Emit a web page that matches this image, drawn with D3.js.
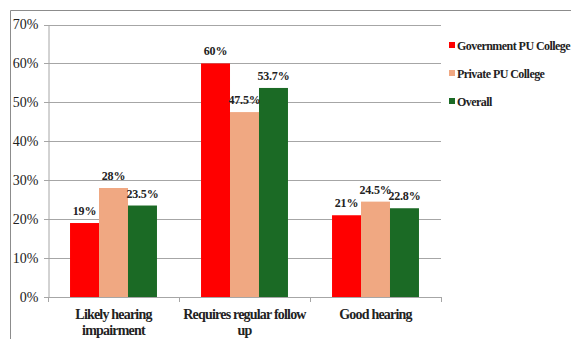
<!DOCTYPE html>
<html><head><meta charset="utf-8">
<script src="https://cdn.jsdelivr.net/npm/d3@7"></script>
</head><body style="margin:0;background:#fff">
<svg id="chart" width="571" height="339" style="display:block"></svg>
<script>
const categories = ["Likely hearing impairment", "Requires regular follow up", "Good hearing"];
const categoryLines = [["Likely hearing", "impairment"], ["Requires regular follow", "up"], ["Good hearing"]];
const seriesNames = ["Government PU College", "Private PU College", "Overall"];
const government = [19, 60, 21];
const privateCol = [28, 47.5, 24.5];
const overall = [23.5, 53.7, 22.8];
const valueLabels = [["19%", "60%", "21%"], ["28%", "47.5%", "24.5%"], ["23.5%", "53.7%", "22.8%"]];
const yTicks = [0, 10, 20, 30, 40, 50, 60, 70];
const colors = ["#ff0000", "#f0a882", "#1b6a25"];

const FONT = '"Liberation Serif"';
const seriesValues = [government, privateCol, overall];
const svg = d3.select("#chart");

// outer border
svg.append("line").attr("x1", 10.5).attr("x2", 571).attr("y1", 10.5).attr("y2", 10.5).attr("stroke", "#8c8c8c");
svg.append("line").attr("x1", 10.5).attr("x2", 10.5).attr("y1", 10.5).attr("y2", 339).attr("stroke", "#8c8c8c");

const x0 = d3.scaleBand().domain(categories).range([48, 441]);
const x1 = d3.scaleBand().domain(seriesNames).range([0, x0.bandwidth()]).paddingOuter(0.76);
const y = d3.scaleLinear().domain([0, 70]).range([297, 24.5]);

// gridlines
svg.append("g").selectAll("line").data(yTicks).join("line")
  .attr("x1", 44).attr("x2", 441)
  .attr("y1", d => Math.round(y(d)) + 0.5).attr("y2", d => Math.round(y(d)) + 0.5)
  .attr("stroke", "#a6a6a6");

// y axis
const yAxis = d3.axisLeft(y).tickValues(yTicks).tickFormat(d => d + "%").tickSize(0).tickPadding(10);
const gy = svg.append("g").attr("transform", "translate(48.5,0)").call(yAxis);
gy.select(".domain").attr("stroke", "#a6a6a6");
gy.selectAll("text").attr("font-size", 14).attr("fill", "#222").style("font-family", FONT);

// bars
const groups = svg.append("g").selectAll("g").data(categories).join("g")
  .attr("transform", d => `translate(${x0(d)},0)`);
const barData = (c, i) => seriesNames.map((s, j) => ({s, j, v: seriesValues[j][i], lab: valueLabels[j][i]}));
groups.selectAll("rect").data(barData)
  .join("rect")
  .attr("x", d => x1(d.s)).attr("width", x1.bandwidth())
  .attr("y", d => y(d.v)).attr("height", d => y(0) - y(d.v))
  .attr("fill", d => colors[d.j]);
groups.selectAll("text").data(barData)
  .join("text")
  .attr("x", d => x1(d.s) + x1.bandwidth() / 2).attr("y", d => y(d.v) - 8)
  .attr("text-anchor", "middle").attr("font-size", 12).attr("font-weight", "bold").attr("fill", "#222")
  .style("font-family", FONT).style("letter-spacing", "-0.2px")
  .text(d => d.lab);

// x axis
svg.append("line").attr("x1", 48).attr("x2", 441).attr("y1", 297.5).attr("y2", 297.5).attr("stroke", "#a6a6a6");
const bounds = categories.map(c => x0(c)).concat([x0.range()[1]]);
svg.append("g").selectAll("line").data(bounds).join("line")
  .attr("x1", d => Math.round(d) + 0.5).attr("x2", d => Math.round(d) + 0.5)
  .attr("y1", 297).attr("y2", 302).attr("stroke", "#a6a6a6");
const cl = svg.append("g").selectAll("text").data(categories).join("text")
  .attr("x", d => x0(d) + x0.bandwidth() / 2).attr("y", 318.5)
  .attr("text-anchor", "middle").attr("font-size", 14).attr("font-weight", "bold").attr("fill", "#222")
  .style("font-family", FONT).style("letter-spacing", "-0.8px");
cl.each(function(d, i) {
  d3.select(this).selectAll("tspan").data(categoryLines[i]).join("tspan")
    .attr("x", x0(d) + x0.bandwidth() / 2).attr("dy", (t, k) => k === 0 ? 0 : 16).text(t => t);
});

// legend
const leg = svg.append("g").selectAll("g").data(seriesNames).join("g")
  .attr("transform", (d, i) => `translate(449,${45 + i * 28})`);
leg.append("rect").attr("x", 0).attr("y", -3).attr("width", 6).attr("height", 6).attr("fill", (d, i) => colors[i]);
leg.append("text").attr("x", 8).attr("y", 4.5).attr("font-size", 12).attr("font-weight", "bold").attr("fill", "#222")
  .style("font-family", FONT).style("letter-spacing", "-0.55px").text(d => d);
</script>
</body></html>
